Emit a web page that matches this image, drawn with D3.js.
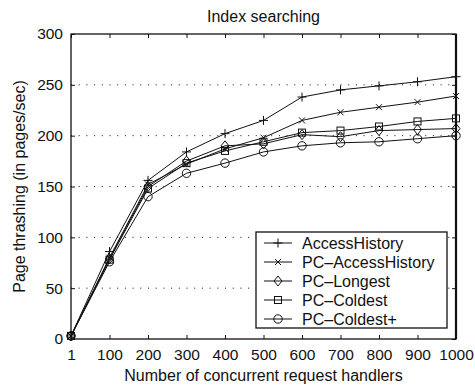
<!DOCTYPE html>
<html>
<head>
<meta charset="utf-8">
<script src="https://cdn.jsdelivr.net/npm/d3@7"></script>
<style>
  html, body { margin: 0; padding: 0; background: #fff; }
  svg { display: block; font-family: "Liberation Sans", Arial, Helvetica, sans-serif; }
</style>
</head>
<body>
<svg id="chart" width="475" height="387"></svg>
<script>
// data
const handlers = ['1', '100', '200', '300', '400', '500', '600', '700', '800', '900', '1000']
const yTicks = [0, 50, 100, 150, 200, 250, 300]

const accessHistory   = [3, 86, 156, 184, 202, 215, 238, 245, 249, 253, 258]
const pcAccessHistory = [3, 80, 152, 172, 187, 198, 215, 223, 228, 233, 239]
const pcLongest       = [3, 79, 150, 175, 190, 192, 201, 199, 205, 206, 207]
const pcColdest       = [3, 78, 148, 173, 185, 194, 203, 205, 209, 214, 217]
const pcColdestPlus   = [3, 76, 140, 163, 173, 184, 190, 193, 194, 197, 200]

const series = [
  { name: 'AccessHistory', values: accessHistory, marker: 'plus' },
  { name: 'PC\u2013AccessHistory', values: pcAccessHistory, marker: 'cross' },
  { name: 'PC\u2013Longest', values: pcLongest, marker: 'diamond' },
  { name: 'PC\u2013Coldest', values: pcColdest, marker: 'square' },
  { name: 'PC\u2013Coldest+', values: pcColdestPlus, marker: 'circle' }
]

const margin = { top: 34, right: 19, bottom: 48, left: 71 }
const W = 475, H = 387
const plotW = W - margin.left - margin.right
const plotH = H - margin.top - margin.bottom
const ink = '#111'

const svg = d3.select('#chart')
const g = svg.append('g').attr('transform', `translate(${margin.left},${margin.top})`)

const x = d3.scalePoint().domain(handlers).range([0, plotW])
const y = d3.scaleLinear().domain([0, 300]).range([plotH, 0])

// dotted horizontal grid
g.append('g')
  .selectAll('line')
  .data(yTicks.filter(t => t > 0 && t < 300))
  .join('line')
  .attr('x1', 0).attr('x2', plotW)
  .attr('y1', d => y(d)).attr('y2', d => y(d))
  .attr('stroke', ink)
  .attr('stroke-width', 1)
  .attr('stroke-dasharray', '1,6.7')

// axes with inward ticks
const styleAxis = sel => {
  sel.select('.domain').remove()
  sel.selectAll('line').attr('stroke', ink)
  sel.selectAll('text').attr('fill', ink).style('font-size', '15.5px').style('font-family', '"Liberation Sans", Arial, sans-serif')
}

g.append('g')
  .attr('transform', `translate(0,${plotH})`)
  .call(d3.axisBottom(x).tickSizeInner(-4).tickSizeOuter(0).tickPadding(10))
  .call(styleAxis)

g.append('g')
  .call(d3.axisTop(x).tickSizeInner(-4).tickSizeOuter(0).tickFormat(''))
  .call(styleAxis)

g.append('g')
  .call(d3.axisLeft(y).tickValues(yTicks).tickSizeInner(-4).tickSizeOuter(0).tickPadding(8))
  .call(styleAxis)

g.append('g')
  .attr('transform', `translate(${plotW},0)`)
  .call(d3.axisRight(y).tickValues(yTicks).tickSizeInner(-4).tickSizeOuter(0).tickFormat(''))
  .call(styleAxis)

// frame
g.append('rect')
  .attr('width', plotW).attr('height', plotH)
  .attr('fill', 'none').attr('stroke', ink).attr('stroke-width', 1.3)
g.append('line')
  .attr('x1', plotW).attr('x2', plotW).attr('y1', 0).attr('y2', plotH)
  .attr('stroke', ink).attr('stroke-width', 2.2)

// marker drawing
function drawMarker(sel, type) {
  const s = 4
  if (type === 'plus') {
    sel.append('path').attr('d', `M${-s - 0.5},0H${s + 0.5}M0,${-s - 0.5}V${s + 0.5}`)
  } else if (type === 'cross') {
    sel.append('path').attr('d', `M${-3},${-3}L3,3M${-3},3L3,${-3}`)
  } else if (type === 'diamond') {
    sel.append('path').attr('d', `M0,${-s - 1}L${s},0L0,${s + 1}L${-s},0Z`).attr('fill', 'none')
  } else if (type === 'square') {
    sel.append('rect').attr('x', -3.5).attr('y', -3.5).attr('width', 7).attr('height', 7).attr('fill', 'none')
  } else if (type === 'circle') {
    sel.append('circle').attr('r', 4.2).attr('fill', 'none')
  }
  sel.selectAll('*').attr('stroke', ink).attr('stroke-width', 1)
}

const line = d3.line()
  .x((d, i) => x(handlers[i]))
  .y(d => y(d))

series.forEach(s => {
  g.append('path')
    .datum(s.values)
    .attr('d', line)
    .attr('fill', 'none')
    .attr('stroke', ink)
    .attr('stroke-width', 1)

  s.values.forEach((v, i) => {
    const m = g.append('g').attr('transform', `translate(${x(handlers[i])},${y(v)})`)
    drawMarker(m, s.marker)
  })
})

// title and axis labels
svg.append('text')
  .attr('x', margin.left + plotW / 2).attr('y', 21.5)
  .attr('text-anchor', 'middle')
  .style('font-size', '16px')
  .attr('fill', ink)
  .text('Index searching')

svg.append('text')
  .attr('x', margin.left + plotW / 2).attr('y', 381)
  .attr('text-anchor', 'middle')
  .style('font-size', '16px')
  .attr('fill', ink)
  .text('Number of concurrent request handlers')

svg.append('text')
  .attr('transform', `translate(25,${margin.top + plotH / 2}) rotate(-90)`)
  .attr('text-anchor', 'middle')
  .style('font-size', '16px')
  .attr('fill', ink)
  .text('Page thrashing (in pages/sec)')

// legend
const legend = svg.append('g').attr('transform', 'translate(256,232)')
legend.append('rect')
  .attr('width', 191).attr('height', 96)
  .attr('fill', '#fff').attr('stroke', ink).attr('stroke-width', 1.3)

series.forEach((s, i) => {
  const row = legend.append('g').attr('transform', `translate(0,${11 + i * 19})`)
  row.append('line')
    .attr('x1', 8).attr('x2', 36)
    .attr('stroke', ink).attr('stroke-width', 1)
  drawMarker(row.append('g').attr('transform', 'translate(22,0)'), s.marker)
  row.append('text')
    .attr('x', 46).attr('y', 0)
    .attr('dy', '0.35em')
    .style('font-size', '16px')
    .attr('fill', ink)
    .text(s.name)
})
</script>
</body>
</html>
